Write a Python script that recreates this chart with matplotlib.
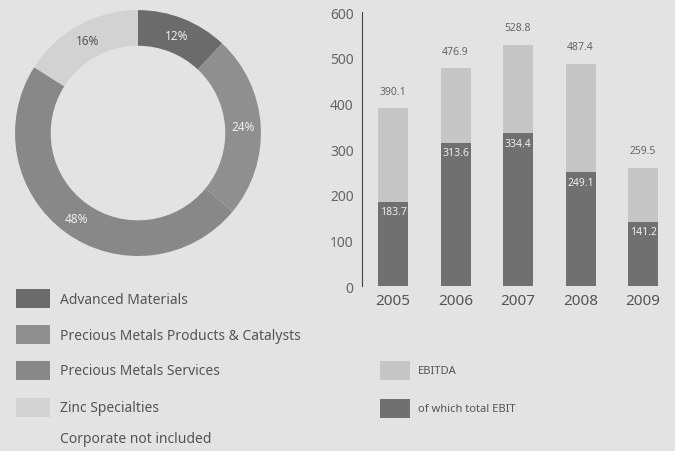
import matplotlib.pyplot as plt
from matplotlib.patches import Rectangle

plt.rcParams['font.family'] = ['Noto Sans', 'DejaVu Sans']

# Segment shares (donut)
segments = ["Advanced Materials", "Precious Metals Products & Catalysts",
            "Precious Metals Services", "Zinc Specialties"]
shares = [12, 24, 48, 16]
seg_colors = ["#6b6b6b", "#8f8f8f", "#888888", "#d2d2d2"]
pct_colors = ["#eeeeee", "#eeeeee", "#eeeeee", "#555555"]

# EBITDA / EBIT by year (bars)
years = ["2005", "2006", "2007", "2008", "2009"]
ebitda = [390.1, 476.9, 528.8, 487.4, 259.5]
ebit = [183.7, 313.6, 334.4, 249.1, 141.2]

bg = "#e3e3e3"
txt = "#555555"

fig = plt.figure(figsize=(6.75, 4.52), dpi=100, facecolor=bg)

# donut
ax1 = fig.add_axes([0.0222, 0.4314, 0.3644, 0.544])
ax1.set_facecolor(bg)
wedges, _, autotexts = ax1.pie(shares, colors=seg_colors, startangle=90, counterclock=False,
                               radius=1, autopct='%d%%', pctdistance=0.855,
                               wedgeprops=dict(width=0.29, linewidth=0),
                               textprops=dict(fontsize=8.5))
for t, c in zip(autotexts, pct_colors):
    t.set_color(c)
ax1.set_xlim(-1, 1)
ax1.set_ylim(-1, 1)
ax1.set_aspect('equal')

# legend for segments
W, H = 675, 452
def px(x, y):
    return x / W, 1 - y / H

rows_y = [300, 336, 372, 409]
for name, col, y in zip(segments, seg_colors, rows_y):
    x0, y0 = px(16, y + 9)
    fig.patches.append(Rectangle((x0, y0), 34 / W, 19 / H, transform=fig.transFigure,
                                 facecolor=col, edgecolor='none'))
    fig.text(*px(60, y), name, fontsize=10, color=txt, va='center', ha='left')
fig.text(*px(60, 440), "Corporate not included", fontsize=10, color=txt, va='center', ha='left')

# bars
ax2 = fig.add_axes([0.5363, 0.365, 0.4637, 0.606])
ax2.set_facecolor(bg)
x = range(len(years))
ax2.bar(x, ebitda, width=0.48, color="#c6c6c6", zorder=1)
ax2.bar(x, ebit, width=0.48, color="#707070", zorder=2)
for i in x:
    ax2.annotate(f"{ebitda[i]:.1f}", (i, ebitda[i]), xytext=(0, 12), textcoords='offset points',
                 ha='center', va='center', fontsize=7.5, color="#666666")
    ax2.annotate(f"{ebit[i]:.1f}", (i, ebit[i]), xytext=(0, -7), textcoords='offset points',
                 ha='center', va='center', fontsize=7.5, color="#eeeeee", zorder=3)
ax2.set_ylim(0, 600)
ax2.set_xlim(-0.496, 4.51)
ax2.set_yticks(range(0, 601, 100))
ax2.set_xticks(list(x))
ax2.set_xticklabels(years, fontsize=11, color=txt)
ax2.tick_params(axis='y', labelsize=10, labelcolor="#666666", length=0, pad=6)
ax2.tick_params(axis='x', length=0, pad=5)
for s in ['top', 'right', 'bottom']:
    ax2.spines[s].set_visible(False)
ax2.spines['left'].set_color("#444444")
ax2.spines['left'].set_linewidth(0.8)

# legend for bars
for label, col, y in [("EBITDA", "#c6c6c6", 372), ("of which total EBIT", "#707070", 410)]:
    x0, y0 = px(380, y + 9)
    fig.patches.append(Rectangle((x0, y0), 30 / W, 19 / H, transform=fig.transFigure,
                                 facecolor=col, edgecolor='none'))
    fig.text(*px(418, y), label, fontsize=8, color=txt, va='center', ha='left')

fig.savefig("out.png", dpi=100, facecolor=bg)
